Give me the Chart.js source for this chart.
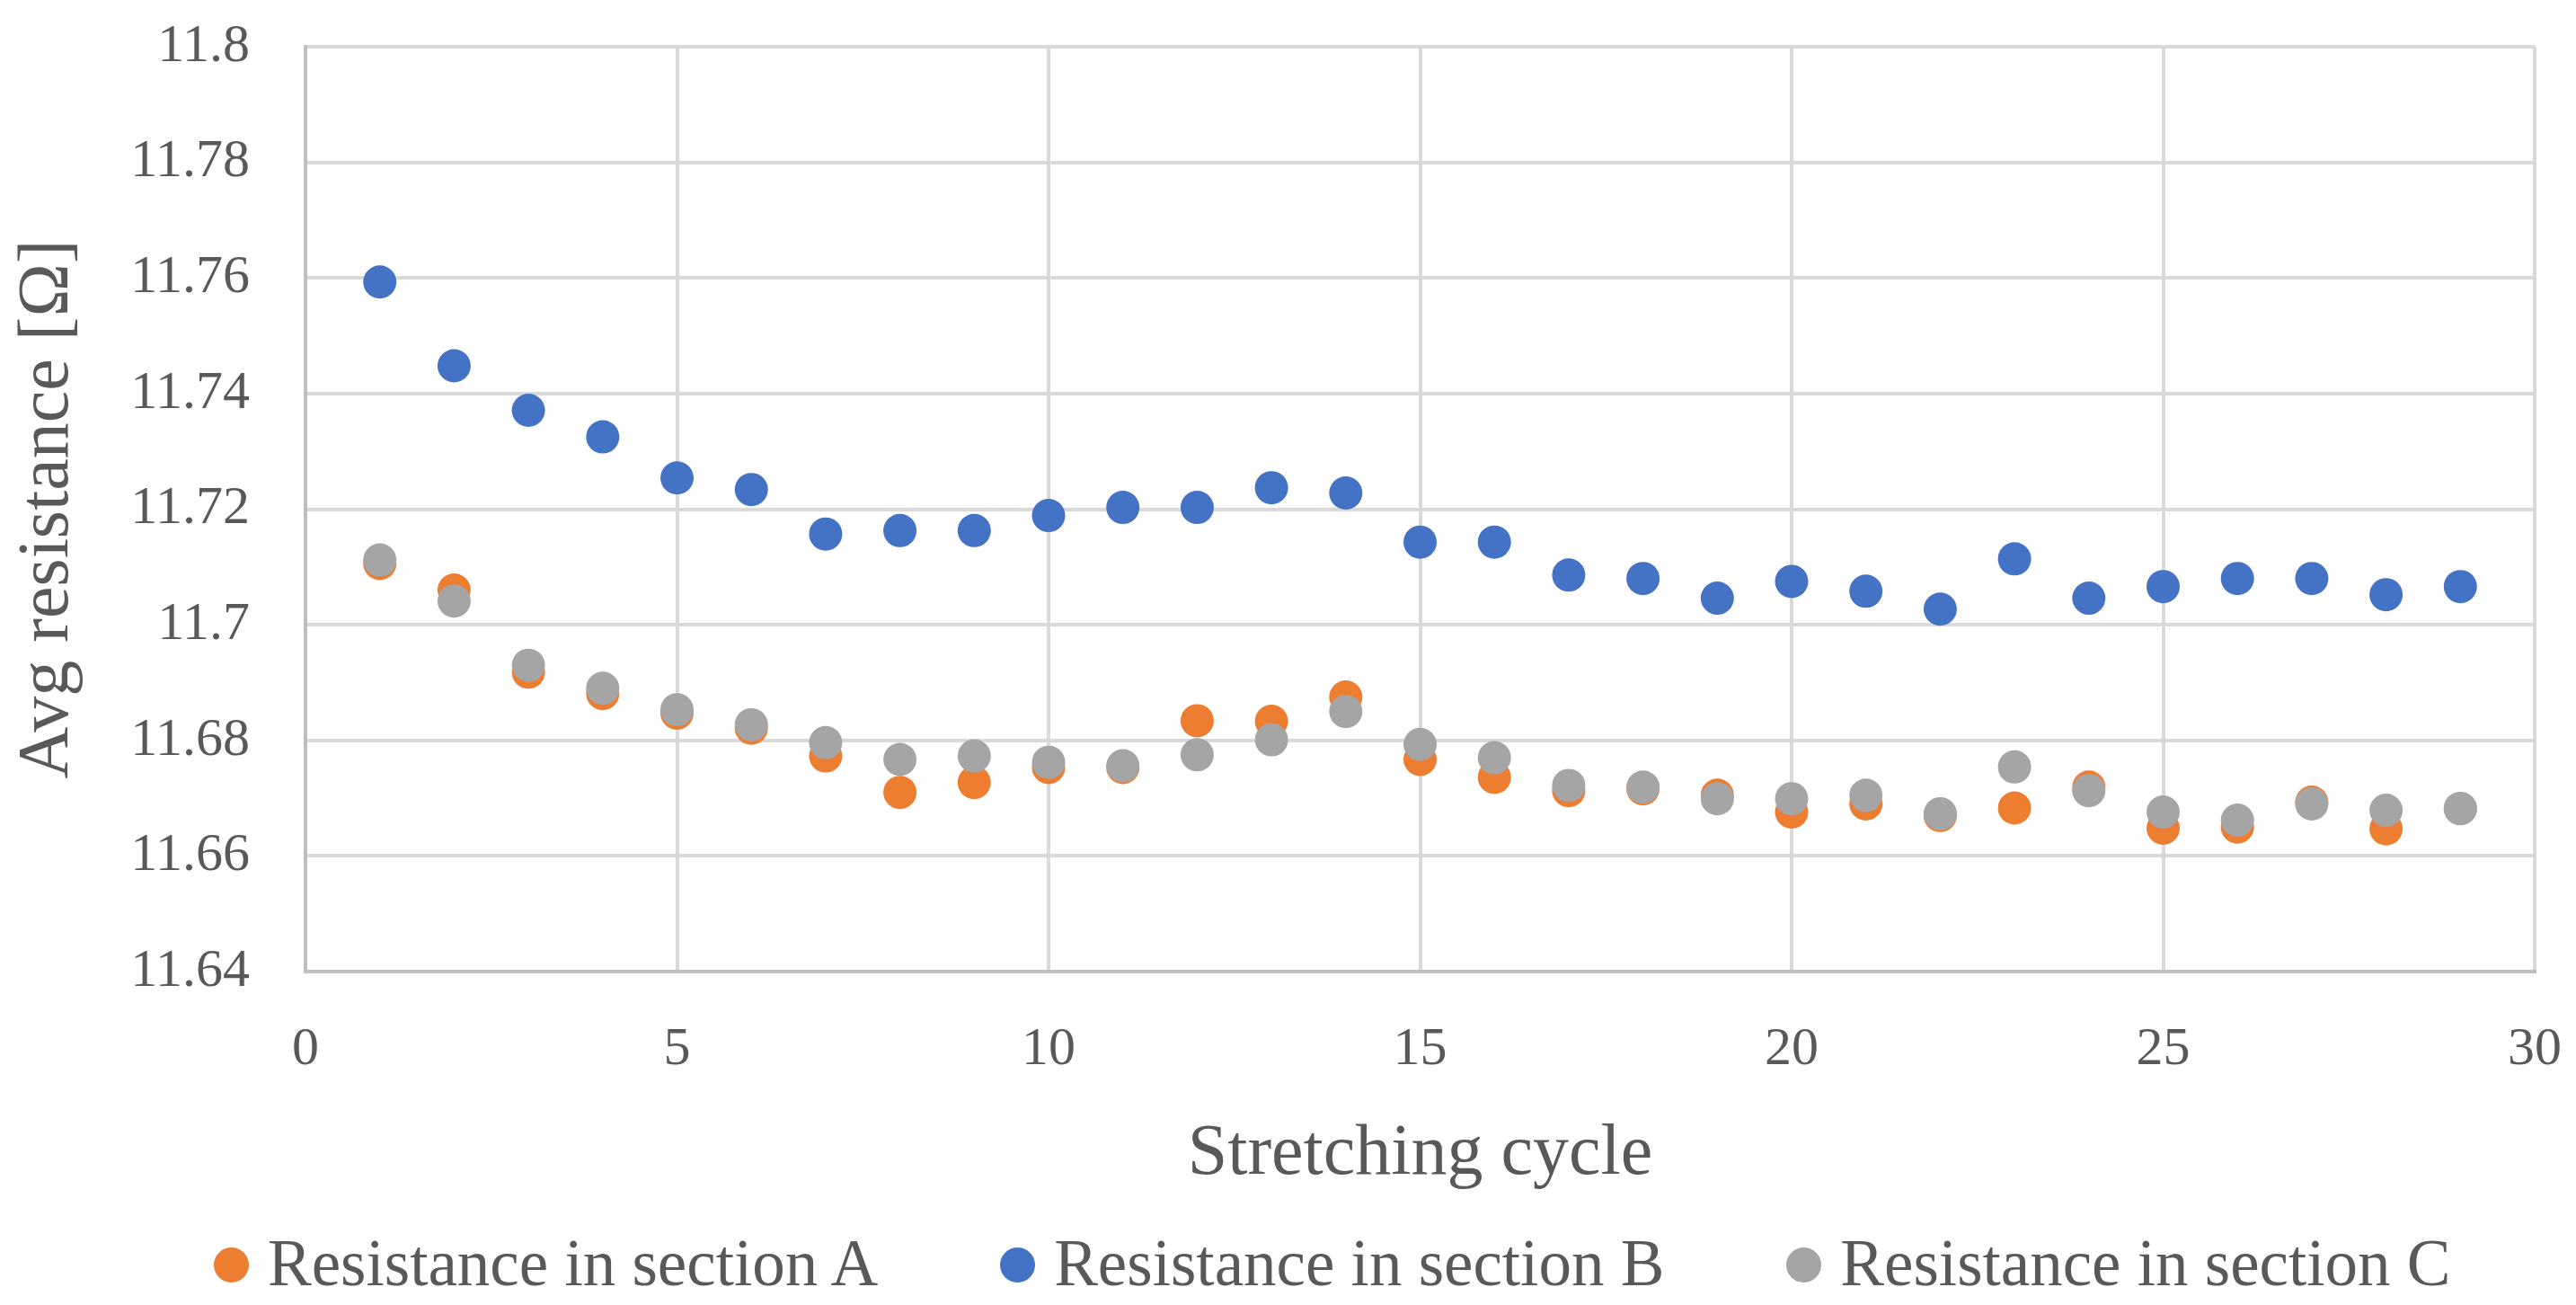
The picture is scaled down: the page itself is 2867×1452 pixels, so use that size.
<!DOCTYPE html>
<html>
<head>
<meta charset="utf-8">
<title>Avg resistance per stretching cycle</title>
<script src="https://cdn.jsdelivr.net/npm/chart.js@4.4.1/dist/chart.umd.min.js"></script>
<style>
    html, body { margin: 0; padding: 0; background: #ffffff; }
    #wrap { position: relative; width: 2867px; height: 1452px; }
    #legend {
        position: absolute;
        left: 238px;
        top: 1369px;
        display: flex;
        gap: 136px;
        font-family: "Liberation Serif", serif;
        font-size: 73px;
        line-height: 1;
        color: #595959;
        white-space: nowrap;
    }
    .item { display: flex; align-items: center; }
    .dot { width: 39px; height: 39px; border-radius: 50%; margin-right: 21px; position: relative; top: 2px; }
</style>
</head>
<body>
<div id="wrap">
    <canvas id="chart"></canvas>
    <div id="legend"></div>
</div>
<script>
const cycles = [1, 2, 3, 4, 5, 6, 7, 8, 9, 10, 11, 12, 13, 14, 15, 16, 17, 18, 19, 20, 21, 22, 23, 24, 25, 26, 27, 28, 29];

const sectionA = [11.7106, 11.7060, 11.6918, 11.6881, 11.6847, 11.6821, 11.6773, 11.6710, 11.6727, 11.6753,
    11.6753, 11.6834, 11.6833, 11.6875, 11.6767, 11.6736, 11.6713, 11.6716, 11.6705, 11.6676,
    11.6690, 11.6670, 11.6683, 11.6719, 11.6648, 11.6650, 11.6693, 11.6647, 11.6682];

const sectionB = [11.7593, 11.7448, 11.7371, 11.7325, 11.7254, 11.7234, 11.7157, 11.7163, 11.7163, 11.7189,
    11.7203, 11.7203, 11.7237, 11.7228, 11.7143, 11.7143, 11.7086, 11.7080, 11.7046, 11.7075,
    11.7058, 11.7027, 11.7114, 11.7046, 11.7066, 11.7080, 11.7080, 11.7052, 11.7066];

const sectionC = [11.7112, 11.7041, 11.6930, 11.6890, 11.6853, 11.6827, 11.6796, 11.6767, 11.6773, 11.6762,
    11.6756, 11.6775, 11.6801, 11.6850, 11.6793, 11.6770, 11.6722, 11.6719, 11.6699, 11.6699,
    11.6705, 11.6673, 11.6754, 11.6713, 11.6676, 11.6662, 11.6690, 11.6679, 11.6682];

const seriesLabels = ["Resistance in section A", "Resistance in section B", "Resistance in section C"];
const seriesColors = ["#ED7D31", "#4472C4", "#A5A5A5"];

function toPoints(values) {
    return cycles.map((c, i) => ({ x: c, y: values[i] }));
}

Chart.defaults.font.family = "'Liberation Serif', serif";
Chart.defaults.color = "#595959";

const ctx = document.getElementById("chart").getContext("2d");

// ticks are hidden (transparent); their length is used as the gap to the labels,
// because ticks.padding also gets added to the chart edge padding
const chart = new Chart(ctx, {
    type: "scatter",
    data: {
        datasets: [
            // order: lower is drawn on top (C over A over B)
            { label: seriesLabels[0], data: toPoints(sectionA), backgroundColor: seriesColors[0], order: 1 },
            { label: seriesLabels[1], data: toPoints(sectionB), backgroundColor: seriesColors[1], order: 2 },
            { label: seriesLabels[2], data: toPoints(sectionC), backgroundColor: seriesColors[2], order: 0 },
        ],
    },
    options: {
        responsive: true,
        maintainAspectRatio: false,
        animation: false,
        events: [],
        layout: {
            padding: { top: 52, right: 46, bottom: 112, left: 0 },
        },
        elements: {
            point: { radius: 18.5, borderWidth: 0, hoverRadius: 18.5 },
        },
        plugins: {
            legend: { display: false },
            tooltip: { enabled: false },
        },
        scales: {
            x: {
                type: "linear",
                min: 0,
                max: 30,
                ticks: { stepSize: 5, padding: 0, font: { size: 60 } },
                grid: { color: "#d9d9d9", lineWidth: 4, tickLength: 51, tickColor: "rgba(0,0,0,0)" },
                border: { color: "#bfbfbf", width: 4 },
                title: {
                    display: true,
                    text: "Stretching cycle",
                    font: { size: 80 },
                    padding: { top: 0, bottom: 7 },
                },
                afterFit: (scale) => { scale.height = 259; },
            },
            y: {
                min: 11.64,
                max: 11.8,
                ticks: {
                    stepSize: 0.02,
                    padding: 0,
                    font: { size: 60 },
                    callback: (v) => parseFloat(v.toFixed(2)).toString(),
                },
                grid: { color: "#d9d9d9", lineWidth: 4, tickLength: 62, tickColor: "rgba(0,0,0,0)" },
                border: { color: "#bfbfbf", width: 4 },
                title: {
                    display: true,
                    text: "Avg resistance [Ω]",
                    font: { size: 80, lineHeight: 1.075 },
                    padding: { top: 11, bottom: 0 },
                },
                afterFit: (scale) => { scale.width = 340; },
            },
        },
    },
});

// html legend, built from the datasets
const legendEl = document.getElementById("legend");
chart.data.datasets.forEach((ds) => {
    const item = document.createElement("div");
    item.className = "item";
    const dot = document.createElement("span");
    dot.className = "dot";
    dot.style.background = ds.backgroundColor;
    const text = document.createElement("span");
    text.textContent = ds.label;
    item.appendChild(dot);
    item.appendChild(text);
    legendEl.appendChild(item);
});
</script>
</body>
</html>
